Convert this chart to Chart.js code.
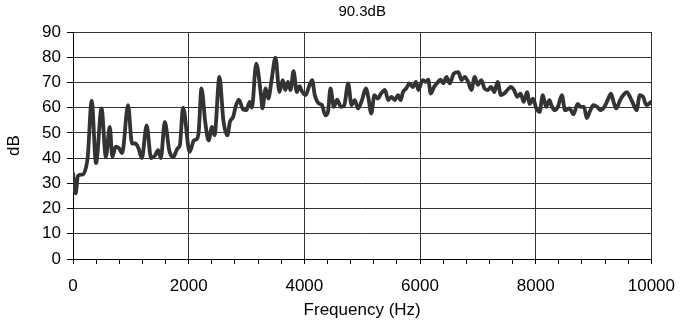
<!DOCTYPE html>
<html>
<head>
<meta charset="utf-8">
<script src="https://cdn.jsdelivr.net/npm/chart.js@4/dist/chart.umd.min.js"></script>
<style>
  html, body { margin: 0; padding: 0; background: #fff; }
  #wrap { width: 687px; height: 323px; }
</style>
</head>
<body>
<div id="wrap"><canvas id="c" width="687" height="323"></canvas></div>
<script>
const chartTitle = "90.3dB";
const xTitle = "Frequency (Hz)";
const yTitle = "dB";
const xTickValues = [0, 2000, 4000, 6000, 8000, 10000];
const yTickValues = [0, 10, 20, 30, 40, 50, 60, 70, 80, 90];

const freqHz = [
  0, 46, 85, 170, 228, 255, 323, 398, 493, 568, 636, 680, 737, 794, 850, 952,
  1020, 1077, 1133, 1190, 1274, 1349, 1417, 1473, 1519, 1587, 1665, 1733, 1808,
  1847, 1903, 2017, 2090, 2148, 2175, 2221, 2289, 2345, 2403, 2447, 2532, 2600,
  2668, 2714, 2770, 2811, 2867, 2940, 2998, 3054, 3093, 3168, 3253, 3275, 3331,
  3377, 3433, 3501, 3569, 3626, 3671, 3716, 3762, 3813, 3869, 3915, 3966, 4023,
  4078, 4136, 4180, 4226, 4265, 4306, 4362, 4408, 4452, 4510, 4566, 4634, 4690,
  4758, 4816, 4872, 4928, 4996, 5064, 5110, 5156, 5212, 5268, 5326, 5394, 5450,
  5506, 5564, 5620, 5666, 5705, 5761, 5818, 5875, 5931, 5972, 6045, 6101, 6141,
  6186, 6243, 6299, 6355, 6401, 6457, 6515, 6583, 6661, 6719, 6775, 6831, 6889,
  6945, 7001, 7059, 7115, 7171, 7229, 7285, 7341, 7399, 7455, 7511, 7569, 7625,
  7681, 7739, 7795, 7851, 7897, 7953, 8011, 8067, 8123, 8181, 8237, 8271, 8327,
  8384, 8452, 8508, 8582, 8656, 8724, 8780, 8836, 8882, 8938, 8996, 9064, 9120,
  9188, 9244, 9302, 9346, 9392, 9460, 9516, 9574, 9630, 9686, 9744, 9800, 9856,
  9914, 10000
];
const levelDb = [
  34, 26, 33, 33.5, 36.6, 40.5, 62.7, 38, 59.7, 40.5, 52.4, 40.5, 44.5, 44, 42, 61,
  45.8, 45.8, 43.9, 40, 53, 40, 41, 43.2, 40, 54.4, 43, 40.3, 43.9,
  45, 60, 42.5, 47, 47.8, 51, 67.6, 53.8, 47, 52.4, 49.1, 72.2, 55,
  49, 54.4, 56.4, 60.3, 63.2, 59.3, 59, 62.3, 60, 77.5, 64.3, 59.7, 67.6,
  63.6, 70.9, 79.8, 66.2, 70.9, 67, 70.2, 67, 74.5, 66.2, 68.5, 66.2, 65,
  68.2, 70.9, 65, 62.3, 61.5, 61, 57, 58.3, 67.6, 60.3, 63.2, 60.3, 61,
  69.6, 61, 63, 59.7, 63, 67.6, 63.6, 57.7, 65, 63.6, 65.6, 67, 63,
  64.3, 63, 65, 63, 66.2, 67.6, 69.6, 68.2, 70.2, 67, 70.9, 70.2, 71.1,
  65.6, 68.2, 69.8, 71.1, 69.6, 72.2, 69.6, 73.5, 74.1, 70.9, 72.2, 70.2, 67,
  72.2, 69, 70.9, 67.6, 67, 68.2, 66.2, 70.2, 65, 65.6, 67, 68.2, 67,
  64.3, 65.6, 62.3, 66.2, 61.5, 63.6, 59.7, 58.3, 65, 60.3, 63, 61, 59,
  60.3, 65, 59, 59.7, 57.4, 61.5, 60.3, 60.3, 55.9, 58.6, 61, 60.3, 59,
  60.3, 63, 65.6, 62.3, 59.7, 63, 65, 66.2, 64.3, 61.5, 59, 65, 64.3,
  61, 62.3
];

const points = freqHz.map((f, i) => ({ x: f, y: levelDb[i] }));
const FONT = "'Liberation Sans', Arial, Helvetica, sans-serif";
const GRID = '#333';

new Chart(document.getElementById('c'), {
  type: 'line',
  data: {
    datasets: [{
      data: points,
      borderColor: '#333333',
      borderWidth: 3.8,
      pointRadius: 0,
      fill: false,
      cubicInterpolationMode: 'monotone',
      borderJoinStyle: 'round',
      borderCapStyle: 'round'
    }]
  },
  options: {
    responsive: false,
    animation: false,
    devicePixelRatio: 1,
    layout: { padding: { left: 0, right: 25, top: 0, bottom: 0 } },
    plugins: {
      legend: { display: false },
      tooltip: { enabled: false },
      title: {
        display: true,
        fullSize: false,
        text: chartTitle,
        color: '#000',
        font: { family: FONT, size: 15, weight: 'normal' },
        padding: { top: 3, bottom: 11 }
      }
    },
    scales: {
      x: {
        type: 'linear',
        min: 0,
        max: 10000,
        afterFit: s => { s.height = 64; },
        ticks: {
          stepSize: 400,
          autoSkip: false,
          maxRotation: 0,
          color: '#000',
          padding: 12,
          font: { family: FONT, size: 17 },
          callback: v => xTickValues.includes(v) ? String(v) : ''
        },
        grid: {
          color: ctx => (ctx.tick && ctx.tick.value % 2000 === 0) ? GRID : 'rgba(0,0,0,0)',
          tickColor: '#000',
          tickLength: 5,
          lineWidth: 1
        },
        border: { color: '#000', width: 1 },
        title: {
          display: true,
          text: xTitle,
          color: '#000',
          font: { family: FONT, size: 17 },
          padding: { top: 0, bottom: 2 }
        }
      },
      y: {
        min: 0,
        max: 90,
        afterFit: s => { s.width = 73; },
        afterBuildTicks: s => { s.ticks = yTickValues.map(v => ({ value: v })); },
        ticks: {
          color: '#000',
          padding: 6,
          font: { family: FONT, size: 17 }
        },
        grid: {
          color: GRID,
          tickColor: '#000',
          tickLength: 6,
          lineWidth: 1
        },
        border: { color: '#000', width: 1 },
        title: {
          display: true,
          text: yTitle,
          color: '#000',
          font: { family: FONT, size: 17 },
          padding: { top: 4, bottom: 4 }
        }
      }
    }
  }
});
</script>
</body>
</html>
